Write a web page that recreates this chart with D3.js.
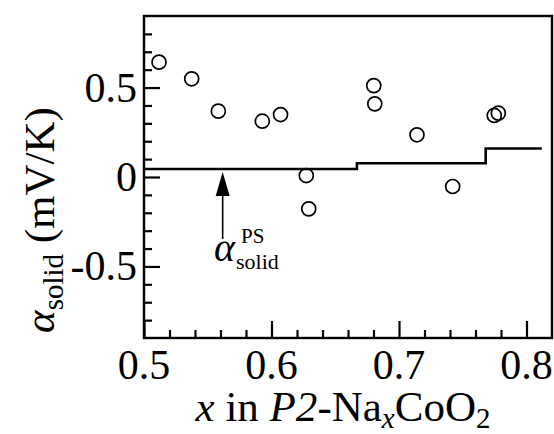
<!DOCTYPE html>
<html>
<head>
<meta charset="utf-8">
<script src="https://cdn.jsdelivr.net/npm/d3@7"></script>
<style>
  html, body { margin: 0; padding: 0; background: #fff; }
  svg { display: block; }
  text { font-family: "Liberation Serif", "Times New Roman", serif; fill: #000; }
</style>
</head>
<body>
<svg id="chart" width="554" height="434"></svg>
<script>
// ---- data ----
const pointX = [0.5118, 0.5374, 0.5583, 0.5928, 0.6071, 0.6273, 0.6292, 0.6802, 0.6810, 0.7141, 0.7421, 0.7747, 0.7779];
const pointY = [0.642, 0.549, 0.368, 0.312, 0.349, 0.008, -0.178, 0.511, 0.409, 0.236, -0.053, 0.344, 0.357];
// step line alpha_solid^PS
const stepX = [0.5, 0.667, 0.768, 0.812];
const stepY = [0.045, 0.077, 0.159];
const xMajorTicks = [0.5, 0.6, 0.7, 0.8];
const xMajorLabels = ["0.5", "0.6", "0.7", "0.8"];
const yMajorTicks = [0.5, 0, -0.5];
const yMajorLabels = ["0.5", "0", "-0.5"];
const arrowX = 0.5617;

// ---- layout ----
const svg = d3.select("#chart");
const L = 144, R = 552, T = 16, B = 338;
const x = d3.scaleLinear().domain([0.5, 0.82]).range([L, R]);
const y = d3.scaleLinear().domain([-0.9, 0.9]).range([B, T]);

// minor ticks
const xMinor = d3.range(0.52, 0.81, 0.02).filter(v => !xMajorTicks.some(m => Math.abs(m - v) < 1e-6));
const yMinor = d3.range(-0.8, 0.85, 0.1).filter(v => !yMajorTicks.some(m => Math.abs(m - v) < 1e-6));

const xAxisMajor = d3.axisBottom(x).tickValues(xMajorTicks).tickSize(-17).tickFormat("");
const xAxisMinor = d3.axisBottom(x).tickValues(xMinor).tickSize(-8).tickFormat("");
const yAxisMajor = d3.axisLeft(y).tickValues(yMajorTicks).tickSize(-16).tickFormat("");
const yAxisMinor = d3.axisLeft(y).tickValues(yMinor).tickSize(-8).tickFormat("");

function styleAxis(g) {
  g.select(".domain").remove();
  g.selectAll(".tick line").attr("stroke", "#000").attr("stroke-width", 2.2);
}
svg.append("g").attr("transform", `translate(0,${B})`).call(xAxisMajor).call(styleAxis);
svg.append("g").attr("transform", `translate(0,${B})`).call(xAxisMinor).call(styleAxis);
svg.append("g").attr("transform", `translate(${L},0)`).call(yAxisMajor).call(styleAxis);
svg.append("g").attr("transform", `translate(${L},0)`).call(yAxisMinor).call(styleAxis);

// frame
svg.append("rect").attr("x", L).attr("y", T).attr("width", R - L).attr("height", B - T)
  .attr("fill", "none").attr("stroke", "#000").attr("stroke-width", 2.4);

// tick labels
svg.append("g").selectAll("text").data(xMajorTicks).join("text")
  .attr("x", d => x(d)).attr("y", B + 41)
  .attr("text-anchor", "middle").attr("font-size", 42)
  .text((d, i) => xMajorLabels[i]);
svg.append("g").selectAll("text").data(yMajorTicks).join("text")
  .attr("x", L - 7).attr("y", d => y(d) + 14)
  .attr("text-anchor", "end").attr("font-size", 42)
  .text((d, i) => yMajorLabels[i]);

// step line
const stepPts = [];
stepY.forEach((v, i) => { stepPts.push([stepX[i], v]); stepPts.push([stepX[i + 1], v]); });
svg.append("path")
  .attr("d", d3.line().x(d => x(d[0])).y(d => y(d[1]))(stepPts))
  .attr("fill", "none").attr("stroke", "#000").attr("stroke-width", 2.6);

// points
svg.append("g").selectAll("circle").data(pointX.map((v, i) => [v, pointY[i]])).join("circle")
  .attr("cx", d => x(d[0])).attr("cy", d => y(d[1])).attr("r", 7)
  .attr("fill", "none").attr("stroke", "#000").attr("stroke-width", 1.7);

// arrow
const ax = x(arrowX), tipY = y(stepY[0]) + 3;
svg.append("line").attr("x1", ax).attr("x2", ax).attr("y1", tipY + 20).attr("y2", tipY + 67)
  .attr("stroke", "#000").attr("stroke-width", 1.6);
svg.append("path")
  .attr("d", `M${ax},${tipY} L${ax - 7},${tipY + 24} L${ax + 7},${tipY + 24} Z`)
  .attr("fill", "#000");

// annotation alpha_solid^PS
const ann = svg.append("text").attr("x", 214).attr("y", 261).attr("font-size", 40);
ann.append("tspan").attr("font-style", "italic").text("α");
ann.append("tspan").attr("font-size", 22).attr("dy", 8).attr("dx", 1).text("solid");
svg.append("text").attr("x", 241).attr("y", 243).attr("font-size", 21).text("PS");

// x axis title
const xt = svg.append("text").attr("x", 343).attr("y", 421).attr("text-anchor", "middle").attr("font-size", 43);
xt.append("tspan").attr("font-style", "italic").text("x");
xt.append("tspan").text(" in ");
xt.append("tspan").attr("font-style", "italic").text("P2");
xt.append("tspan").text("-Na");
xt.append("tspan").attr("font-style", "italic").attr("font-size", 29).attr("dy", 7).text("x");
xt.append("tspan").attr("dy", -7).text("CoO");
xt.append("tspan").attr("font-size", 29).attr("dy", 7).text("2");

// y axis title
const yt = svg.append("text").attr("transform", "translate(54,220) rotate(-90)")
  .attr("text-anchor", "middle").attr("font-size", 43);
yt.append("tspan").attr("font-style", "italic").text("α");
yt.append("tspan").attr("font-size", 29).attr("dy", 9).text("solid");
yt.append("tspan").attr("dy", -9).text(" (mV/K)");
</script>
</body>
</html>
